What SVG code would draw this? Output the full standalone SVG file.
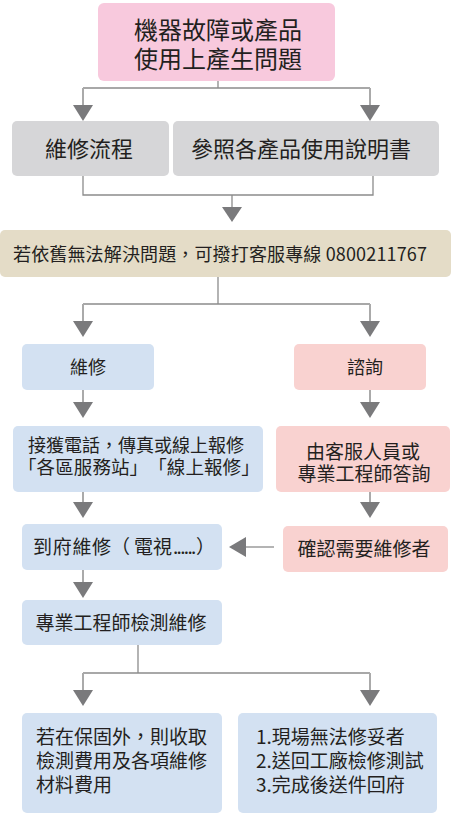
<svg xmlns="http://www.w3.org/2000/svg" width="452" height="814" viewBox="0 0 452 814">
<style>
text{font-family:"Noto Sans CJK TC","Noto Sans CJK SC",sans-serif;fill:#231f20}
.c{text-anchor:middle}
.ln{stroke:#8c8c8c;stroke-width:1.3;fill:none}
.st{stroke:#aaaaaa;stroke-width:2;fill:none}
.ar{fill:#7a7a7c}
.pink{fill:#f8c9dd}.gray{fill:#d6d6d8}.beige{fill:#e4dcc7}.blue{fill:#d3e1f2}.rose{fill:#f9d2d0}
</style>
<g id="connectors">
<path class="ln" d="M218 81V88M83 88H370"/>
<path class="st" d="M83 88V106M370 88V106"/>
<polygon class="ar" points="73,105 93,105 83,121"/>
<polygon class="ar" points="360,105 380,105 370,121"/>
<path class="ln" d="M83 176V195H373V176M232 195V207"/>
<polygon class="ar" points="222,207 242,207 232,222"/>
<path class="ln" d="M218 277V304M83 304H370"/>
<path class="st" d="M83 304V322M370 304V322"/>
<polygon class="ar" points="73,321 93,321 83,337"/>
<polygon class="ar" points="360,321 380,321 370,337"/>
<path class="st" d="M83 390V403M370 390V403"/>
<polygon class="ar" points="73,402 93,402 83,418"/>
<polygon class="ar" points="360,402 380,402 370,418"/>
<path class="st" d="M83 492V503M370 492V503"/>
<polygon class="ar" points="73,502 93,502 83,518"/>
<polygon class="ar" points="360,502 380,502 370,518"/>
<path class="ln" d="M245 547H274"/>
<polygon class="ar" points="229,547 246,537 246,557"/>
<path class="st" d="M83 570V583"/>
<polygon class="ar" points="73,582 93,582 83,598"/>
<path class="ln" d="M138 645V673M83 673H370"/>
<path class="st" d="M83 673V691M370 673V691"/>
<polygon class="ar" points="73,690 93,690 83,706"/>
<polygon class="ar" points="360,690 380,690 370,706"/>
</g>
<g id="n1"><rect class="pink" x="98" y="3" width="237" height="78" rx="6"/>
<text class="c" x="218" y="39" font-size="24">機器故障或產品</text>
<text class="c" x="218" y="68" font-size="24">使用上產生問題</text></g>
<g id="n2"><rect class="gray" x="12" y="121" width="157" height="55" rx="5"/>
<text class="c" x="89" y="157" font-size="22">維修流程</text></g>
<g id="n3"><rect class="gray" x="173" y="121" width="266" height="55" rx="5"/>
<text class="c" x="301" y="157" font-size="22">參照各產品使用說明書</text></g>
<g id="n4"><rect class="beige" x="0" y="230" width="451" height="47" rx="5"/>
<text x="13" y="261" font-size="18" textLength="414">若依舊無法解決問題，可撥打客服專線 0800211767</text></g>
<g id="n5"><rect class="blue" x="22" y="344" width="132" height="46" rx="5"/>
<text class="c" x="88" y="374" font-size="18">維修</text></g>
<g id="n6"><rect class="rose" x="294" y="344" width="132" height="46" rx="5"/>
<text class="c" x="365" y="374" font-size="18">諮詢</text></g>
<g id="n7"><rect class="blue" x="13" y="426" width="250" height="66" rx="5"/>
<text class="c" x="136" y="452" font-size="18">接獲電話，傳真或線上報修</text>
<text x="18 36.6 55.2 73.8 92.4 111 129.6 148.2 166.8 185.4 204 222.6 241.2" y="474" font-size="18.5">「各區服務站」「線上報修」</text></g>
<g id="n8"><rect class="rose" x="276" y="426" width="174" height="66" rx="5"/>
<text class="c" x="363" y="459" font-size="19">由客服人員或</text>
<text class="c" x="364" y="481" font-size="19">專業工程師答詢</text></g>
<g id="n9"><rect class="blue" x="22" y="524" width="200" height="46" rx="5"/>
<text x="33 52.7 72.4 92 111 134 153 173 176.6 180.2 183.8 187.4 191 196" y="554" font-size="19">到府維修（電視......）</text></g>
<g id="n10"><rect class="rose" x="283" y="526" width="165" height="46" rx="5"/>
<text class="c" x="364" y="556" font-size="19">確認需要維修者</text></g>
<g id="n11"><rect class="blue" x="22" y="600" width="200" height="45" rx="5"/>
<text class="c" x="121" y="630" font-size="19">專業工程師檢測維修</text></g>
<g id="n12"><rect class="blue" x="22" y="713" width="200" height="100" rx="5"/>
<text x="36" y="744" font-size="19">若在保固外，則收取</text>
<text x="36" y="768" font-size="19">檢測費用及各項維修</text>
<text x="36" y="792" font-size="19">材料費用</text></g>
<g id="n13"><rect class="blue" x="238" y="713" width="199" height="100" rx="5"/>
<text x="256" y="744" font-size="19">1.現場無法修妥者</text>
<text x="256" y="768" font-size="19">2.送回工廠檢修測試</text>
<text x="256" y="792" font-size="19">3.完成後送件回府</text></g>
</svg>
